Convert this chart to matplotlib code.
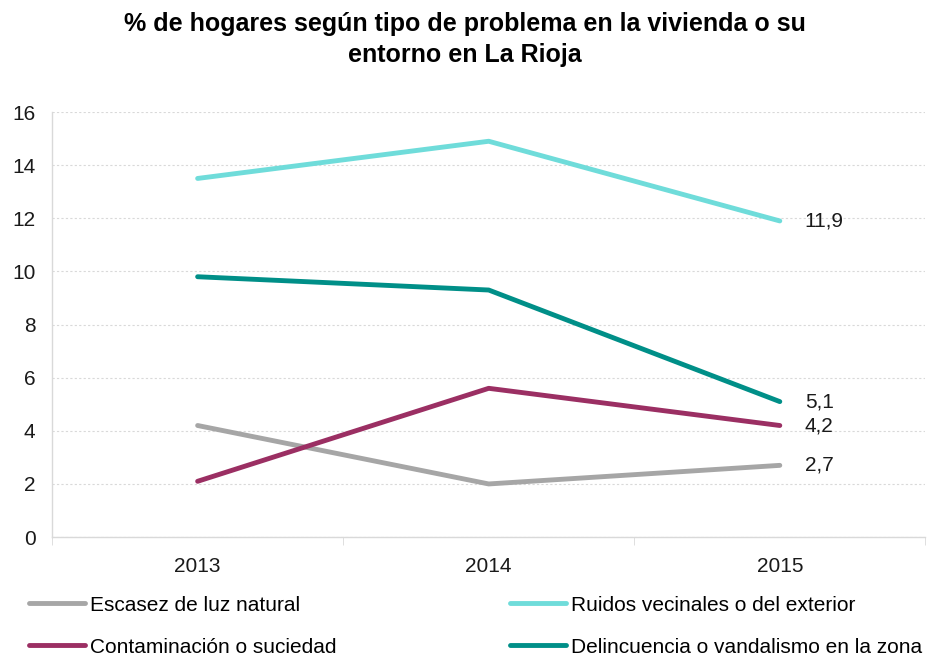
import matplotlib.pyplot as plt
import numpy as np

plt.rcParams['font.family'] = ['Liberation Sans', 'DejaVu Sans']

years = ['2013', '2014', '2015']
escasez = [4.2, 2.0, 2.7]
ruidos = [13.5, 14.9, 11.9]
contaminacion = [2.1, 5.6, 4.2]
delincuencia = [9.8, 9.3, 5.1]

names = ['Escasez de luz natural', 'Ruidos vecinales o del exterior',
         'Contaminación o suciedad', 'Delincuencia o vandalismo en la zona']
series = [escasez, ruidos, contaminacion, delincuencia]
colors = ['#A6A6A6', '#6FDCDA', '#9B2F63', '#008F88']
labels_last = ['2,7', '11,9', '4,2', '5,1']

fig = plt.figure(figsize=(9.3, 6.59), dpi=100)
ax = fig.add_axes([0.056, 0.185, 0.939, 0.645])

x = np.arange(len(years))
lines = []
for s, c, n in zip(series, colors, names):
    l, = ax.plot(x, s, color=c, linewidth=3.5, solid_capstyle='round', label=n)
    lines.append(l)

# etiquetas del último año
for s, lab in zip(series, labels_last):
    ax.annotate(lab, (x[-1], s[-1]), xytext=(18, 0), textcoords='offset points',
                va='center', ha='left', fontsize=15, color='#1a1a1a')

ax.set_xlim(-0.5, 2.5)
ax.set_ylim(0, 16)
ax.set_yticks(range(0, 17, 2))
ax.set_xticks(x)
ax.set_xticklabels(years)
ax.set_xticks([-0.5, 0.5, 1.5, 2.5], minor=True)
ax.tick_params(axis='x', which='major', length=0, pad=14, labelsize=15, colors='#1a1a1a')
ax.tick_params(axis='x', which='minor', length=6, color='#D9D9D9')
ax.tick_params(axis='y', length=0, pad=12, labelsize=15, colors='#1a1a1a')
ax.yaxis.grid(True, linestyle=(0, (2, 2)), color='#D9D9D9', linewidth=0.8)
ax.set_axisbelow(True)
for sp in ['top', 'right']:
    ax.spines[sp].set_visible(False)
for sp in ['left', 'bottom']:
    ax.spines[sp].set_color('#D9D9D9')
    ax.spines[sp].set_linewidth(1)

fig.suptitle('% de hogares según tipo de problema en la vivienda o su\nentorno en La Rioja',
             x=0.5, y=0.982, fontsize=18, fontweight='bold', linespacing=1.4)

order = [0, 2, 1, 3]
fig.legend([lines[i] for i in order], [names[i] for i in order],
           loc='center left', bbox_to_anchor=(0.02, 0.05), ncol=2, frameon=False,
           handlelength=2.7, handletextpad=0.25, columnspacing=8.3, borderpad=0,
           labelspacing=1.1, prop={'size': 15})

fig.savefig('out.png', dpi=100)
